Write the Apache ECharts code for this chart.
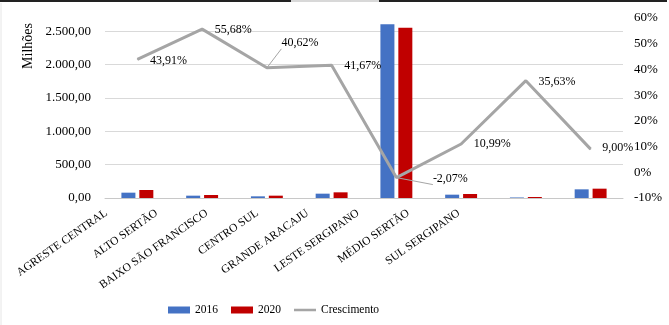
<!DOCTYPE html>
<html><head><meta charset="utf-8">
<script src="https://cdn.jsdelivr.net/npm/echarts@6/dist/echarts.min.js"></script>
<style>html,body{margin:0;padding:0;background:#fff}#c{width:669px;height:325px}</style>
</head><body><div id="c"></div>
<script>
const categories = ['AGRESTE CENTRAL','ALTO SERTÃO','BAIXO SÃO FRANCISCO','CENTRO SUL','GRANDE ARACAJU','LESTE SERGIPANO','MÉDIO SERTÃO','SUL SERGIPANO'];
const values2016 = [80, 35, 25, 65, 2605, 50, 8, 130];
const values2020 = [120, 45, 35, 85, 2555, 60, 15, 140];
const growth = [43.91, 55.68, 40.62, 41.67, -2.07, 10.99, 35.63, 9.00];
const seriesNames = ['2016', '2020', 'Crescimento'];

const FONT = "'Liberation Serif','Times New Roman',serif";
const labelOffsets = [[0,1],[0,1],[2,-25],[0,1],[24,1],[0,0],[0,1],[-1,-1]];
const leaderIdx = [2, 4];
const lineLegendIcon = 'path://M0,0L0.01,0L0.01,0.01ZM0,2.2L22,2.2L22,4.8L0,4.8ZM0,7L0.01,7L0.01,6.99Z';

function fmtBR(v, d) {
  const neg = v < 0;
  const s = Math.abs(v).toFixed(d);
  let parts = s.split('.');
  let i = parts[0].replace(/\B(?=(\d{3})+(?!\d))/g, '.');
  return (neg ? '-' : '') + (parts[1] ? i + ',' + parts[1] : i);
}

const chart = echarts.init(document.getElementById('c'), null, {renderer: 'canvas'});
chart.setOption({
  animation: false,
  backgroundColor: '#fff',
  textStyle: {fontFamily: FONT, color: '#000'},
  grid: [
    {left: 105, right: 46, top: 18, bottom: 127},
    {left: 81, right: 185, top: 18, bottom: 127}
  ],
  legend: {
    left: 168, top: 304, padding: 0, itemWidth: 22, itemHeight: 7, itemGap: 13,
    textStyle: {fontFamily: FONT, fontSize: 11.5, color: '#000'},
    data: [
      {name: seriesNames[0], icon: 'rect'},
      {name: seriesNames[1], icon: 'rect'},
      {name: seriesNames[2], icon: lineLegendIcon}
    ]
  },
  xAxis: [
    {type: 'category', gridIndex: 0, data: categories,
      axisLine: {lineStyle: {color: '#c8c8c8', width: 1}}, axisTick: {show: false}, axisLabel: {show: false}},
    {type: 'category', gridIndex: 1, data: categories,
      axisLine: {show: false}, axisTick: {show: false},
      axisLabel: {interval: 0, rotate: 35, margin: 14, fontSize: 11.5, fontFamily: FONT, color: '#000'}}
  ],
  yAxis: [
    {type: 'value', gridIndex: 0, min: 0, max: 2700, interval: 500,
      axisLine: {show: false}, axisTick: {show: false},
      axisLabel: {formatter: v => fmtBR(v, 2), showMaxLabel: false, margin: 14, fontSize: 13, fontFamily: FONT, color: '#000'},
      splitLine: {showMaxLine: false, lineStyle: {color: '#d9d9d9', width: 1}}},
    {type: 'value', gridIndex: 0, position: 'right', min: -10, max: 60, interval: 10,
      axisLine: {show: false}, axisTick: {show: false}, splitLine: {show: false},
      axisLabel: {formatter: '{value}%', margin: 11, fontSize: 13, fontFamily: FONT, color: '#000'}},
    {type: 'value', gridIndex: 1, show: false, min: 0, max: 1}
  ],
  graphic: [
    {type: 'line', shape: {x1: 0, y1: 1, x2: 291, y2: 1}, style: {stroke: '#222', lineWidth: 2}},
    {type: 'line', shape: {x1: 291, y1: 1, x2: 379, y2: 1}, style: {stroke: '#d8d8d8', lineWidth: 2}},
    {type: 'line', shape: {x1: 379, y1: 1, x2: 667, y2: 1}, style: {stroke: '#222', lineWidth: 2}},
    {type: 'line', shape: {x1: 1, y1: 3, x2: 1, y2: 325}, style: {stroke: '#e6e6e6', lineWidth: 1}},
    {type: 'text', x: 28, y: 46, rotation: Math.PI / 2,
      style: {text: 'Milhões', font: '14px ' + FONT, fill: '#000', textAlign: 'center', textVerticalAlign: 'middle'}}
  ],
  series: [
    {name: seriesNames[0], type: 'bar', xAxisIndex: 0, yAxisIndex: 0, data: values2016,
      barWidth: 14, barGap: '28%', itemStyle: {color: '#4472C4'}},
    {name: seriesNames[1], type: 'bar', xAxisIndex: 0, yAxisIndex: 0, data: values2020,
      barWidth: 14, barGap: '28%', itemStyle: {color: '#C00000'}},
    {name: seriesNames[2], type: 'line', xAxisIndex: 0, yAxisIndex: 1, z: 5,
      data: growth.map((v, i) => ({
        value: v,
        label: {offset: labelOffsets[i]},
        labelLine: {show: leaderIdx.indexOf(i) >= 0, lineStyle: {color: '#a5a5a5', width: 1}}
      })),
      symbol: 'circle', symbolSize: 1, showSymbol: true,
      lineStyle: {color: '#a5a5a5', width: 3},
      itemStyle: {color: '#a5a5a5'},
      label: {show: true, position: 'right', distance: 12, fontSize: 12, fontFamily: FONT, color: '#000',
        formatter: p => fmtBR(p.value, 2) + '%'}}
  ]
});
</script></body></html>
